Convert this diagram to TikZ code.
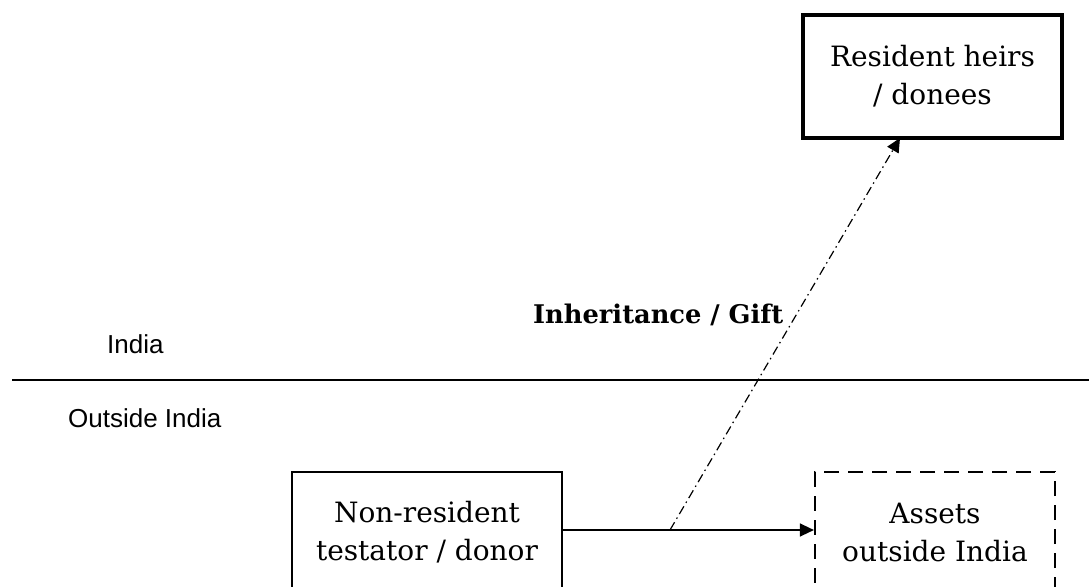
\documentclass[tikz,border=0pt]{standalone}
\usepackage{fontspec}
\setmainfont{DejaVu Serif}
\newfontfamily\regionfont{Liberation Sans}
\usetikzlibrary{arrows.meta,positioning}

\begin{document}
\begin{tikzpicture}[x=1pt,y=-1pt,>={Triangle[length=14pt,width=13pt]},node distance=508pt,
  party box/.style={draw,rectangle,align=center,inner sep=0pt,font=\fontsize{28}{38}\selectfont},
  region label/.style={anchor=base west,inner sep=0pt,font=\regionfont\fontsize{26}{30}\selectfont}]

            \clip (0,0) rectangle (1089,586);

            \node[party box, line width=4.5pt, minimum width=259pt, minimum height=123pt] (heirs) at (932.5,76.5) {Resident heirs\\/ donees};
            \node[party box, line width=2.2pt, minimum width=270pt, minimum height=120pt] (donor) at (427,532) {Non-resident\\testator / donor};
            \node[party box, line width=2.2pt, dash pattern=on 15pt off 9pt, minimum width=240pt, minimum height=120pt] (assets) [right of = donor]{Assets\\outside India};

            \node[region label] (india) at (107,353) {India};
            \node[region label] (outside) at (68,427) {Outside India};
            \node[anchor=base west, inner sep=0pt, font=\bfseries\fontsize{25.7}{30}\selectfont] (gift) at (533,323) {Inheritance / Gift};

            \coordinate (west end) at (12,380);
            \coordinate (east end) at (1089,380);
            \coordinate (split) at (670,530);
            \coordinate (heirs foot) at (900,138);

            \draw[line width=1.3pt] (west end) to (east end);
            \draw[->, line width=1.4pt] (donor.east |- split) to (assets.west |- split);
            \draw[->, line width=1.2pt, dash pattern=on 9pt off 4pt on 1.5pt off 4pt] (split) to (heirs foot);

            ;
        \end{tikzpicture}
\end{document}
